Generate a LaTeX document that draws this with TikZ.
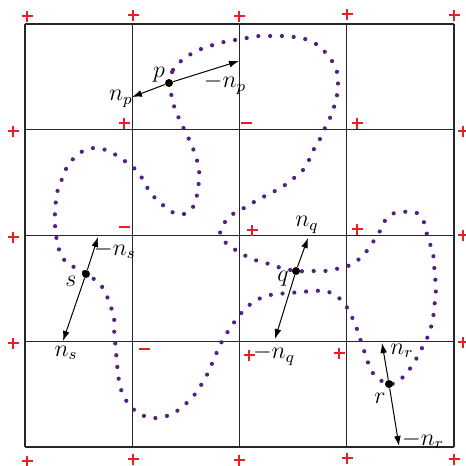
\documentclass[tikz,border=0pt]{standalone}
\usepackage{amsmath, amssymb}
\usetikzlibrary{arrows.meta,positioning}

\definecolor{curvepurple}{RGB}{84,32,132}
\definecolor{signred}{RGB}{235,30,35}

\tikzset{
    gridline/.style={draw=black!85, line width=0.65pt},
    curvedots/.style={draw=curvepurple, line width=2.1pt, line cap=round, dash pattern=on 0pt off 5.9pt},
    ptdot/.style={circle, fill=black, inner sep=0pt, minimum size=4pt},
    lab/.style={font=\large, inner sep=0pt},
    vec/.style={-{Latex[length=5pt,width=3.4pt]}, line width=0.5pt},
    plussign/.pic={\draw[signred, line width=0.9pt] (-5.5,0) -- (5.5,0) (0,-5.5) -- (0,5.5);},
    minussign/.pic={\draw[signred, line width=1.1pt] (-5.5,0) -- (5.5,0);}
}

\begin{document}
\begin{tikzpicture}[x=0.5pt, y=-0.5pt]
    \useasboundingbox (0,0) rectangle (466,466);

    % grid of cells
    \foreach \x in {25,132.25,239.5,346.75,454}
        \draw[gridline] (\x,24) -- (\x,447);
    \foreach \y in {24,129.75,235.5,341.25,447}
        \draw[gridline] (25,\y) -- (454,\y);

    % signs at the grid corners
    \foreach \x/\y in {27/16,133/15,239/16,347/14,454/15,
                       13/131,124/123,357/123,463/131,
                       13/237,252/230,357/229,463/235,
                       13/343,249/355,339/353,463/342,
                       27/461,133/459,239/460,347/458,454/459}
        \pic at (\x,\y) {plussign};
    \foreach \x/\y in {246/123,124/227,144/349}
        \pic at (\x,\y) {minussign};

    % closed curve
    \draw[curvedots] plot[smooth cycle, tension=0.55] coordinates {
        (169,83) (173,70) (181,61) (191,54) (201,49) (213,45) (224,42) (235,40)
        (247,38) (259,36) (271,36) (283,36) (294,37) (305,39) (316,44) (325,52)
        (332,61) (337,72) (338,84) (337,95) (334,107) (330,118) (325,128) (320,139)
        (314,149) (309,160) (303,170) (294,178) (285,185) (275,191) (265,196) (254,202)
        (244,208) (233,214) (225,222) (220,232) (225,242) (234,249) (244,255) (255,260)
        (266,263) (278,267) (296,271) (313,271) (325,271) (336,269) (348,266) (358,260)
        (366,252) (373,242) (379,233) (384,222) (392,214) (403,212) (415,212) (423,220)
        (426,231) (429,241) (433,253) (434,264) (435,276) (436,288) (435,299) (434,311)
        (432,323) (429,334) (424,344) (419,354) (413,364) (406,374) (397,382) (389,384)
        (377,378) (370,368) (366,356) (362,345) (359,335) (355,324) (350,313) (344,303)
        (335,295) (325,291) (313,291) (301,292) (289,293) (277,294) (266,296) (255,301)
        (246,308) (238,317) (231,327) (225,336) (219,347) (215,357) (210,368) (205,379)
        (199,388) (192,398) (183,406) (174,413) (163,417) (151,418) (140,414) (131,407)
        (124,397) (120,386) (118,374) (117,363) (116,352) (115,340) (114,328) (114,316)
        (110,305) (106,294) (100,284) (91,277) (86,274) (81,270) (70,265) (62,257)
        (58,246) (56,235) (55,224) (55,212) (56,200) (58,189) (62,179) (67,167)
        (74,158) (83,151) (94,148) (106,150) (116,155) (126,162) (135,169) (142,178)
        (148,189) (155,198) (164,206) (174,213) (184,214) (193,207) (197,195) (199,180)
        (199,169) (196,157) (192,146) (187,135) (182,125) (177,114) (173,103) (171,93)};

    % points on the curve and their normals
    \node[ptdot] (p) at (169,83) {};
    \node[ptdot] (s) at (86,274) {};
    \node[ptdot] (q) at (296,271) {};
    \node[ptdot] (r) at (389,384) {};

    \coordinate (np) at (132,97);
    \coordinate (mnp) at (239,61);
    \coordinate (ns) at (63,341);
    \coordinate (mns) at (98,237);
    \coordinate (nq) at (308,238);
    \coordinate (mnq) at (275,339);
    \coordinate (nr) at (382,343);
    \coordinate (mnr) at (399,446);

    \draw[vec] (p) -- (np);
    \draw[vec] (p) -- (mnp);
    \draw[vec] (s) -- (ns);
    \draw[vec] (s) -- (mns);
    \draw[vec] (q) -- (nq);
    \draw[vec] (q) -- (mnq);
    \draw[vec] (r) -- (nr);
    \draw[vec] (r) -- (mnr);

    % labels
    \node[lab] (plab) at (159,75) {$p$};
    \node[lab] (slab) at (71,281) {$s$};
    \node[lab] (qlab) at (283,279) {$q$};
    \node[lab] (rlab) at (380,398) {$r$};
    \node[lab] (nplab) at (121,99) {$n_p$};
    \node[lab] (mnplab) at (225,84) {$-n_p$};
    \node[lab] (nslab) at (66,353) {$n_s$};
    \node[lab] (mnslab) at (115,250) {$-n_s$};
    \node[lab] (nqlab) at (307,225) {$n_q$};
    \node[lab] (mnqlab) at (274,355) {$-n_q$};
    \node[lab] (nrlab) at (402,351) {$n_r$};
    \node[lab] (mnrlab) at (423,440) {$-n_r$};
\end{tikzpicture}
\end{document}
